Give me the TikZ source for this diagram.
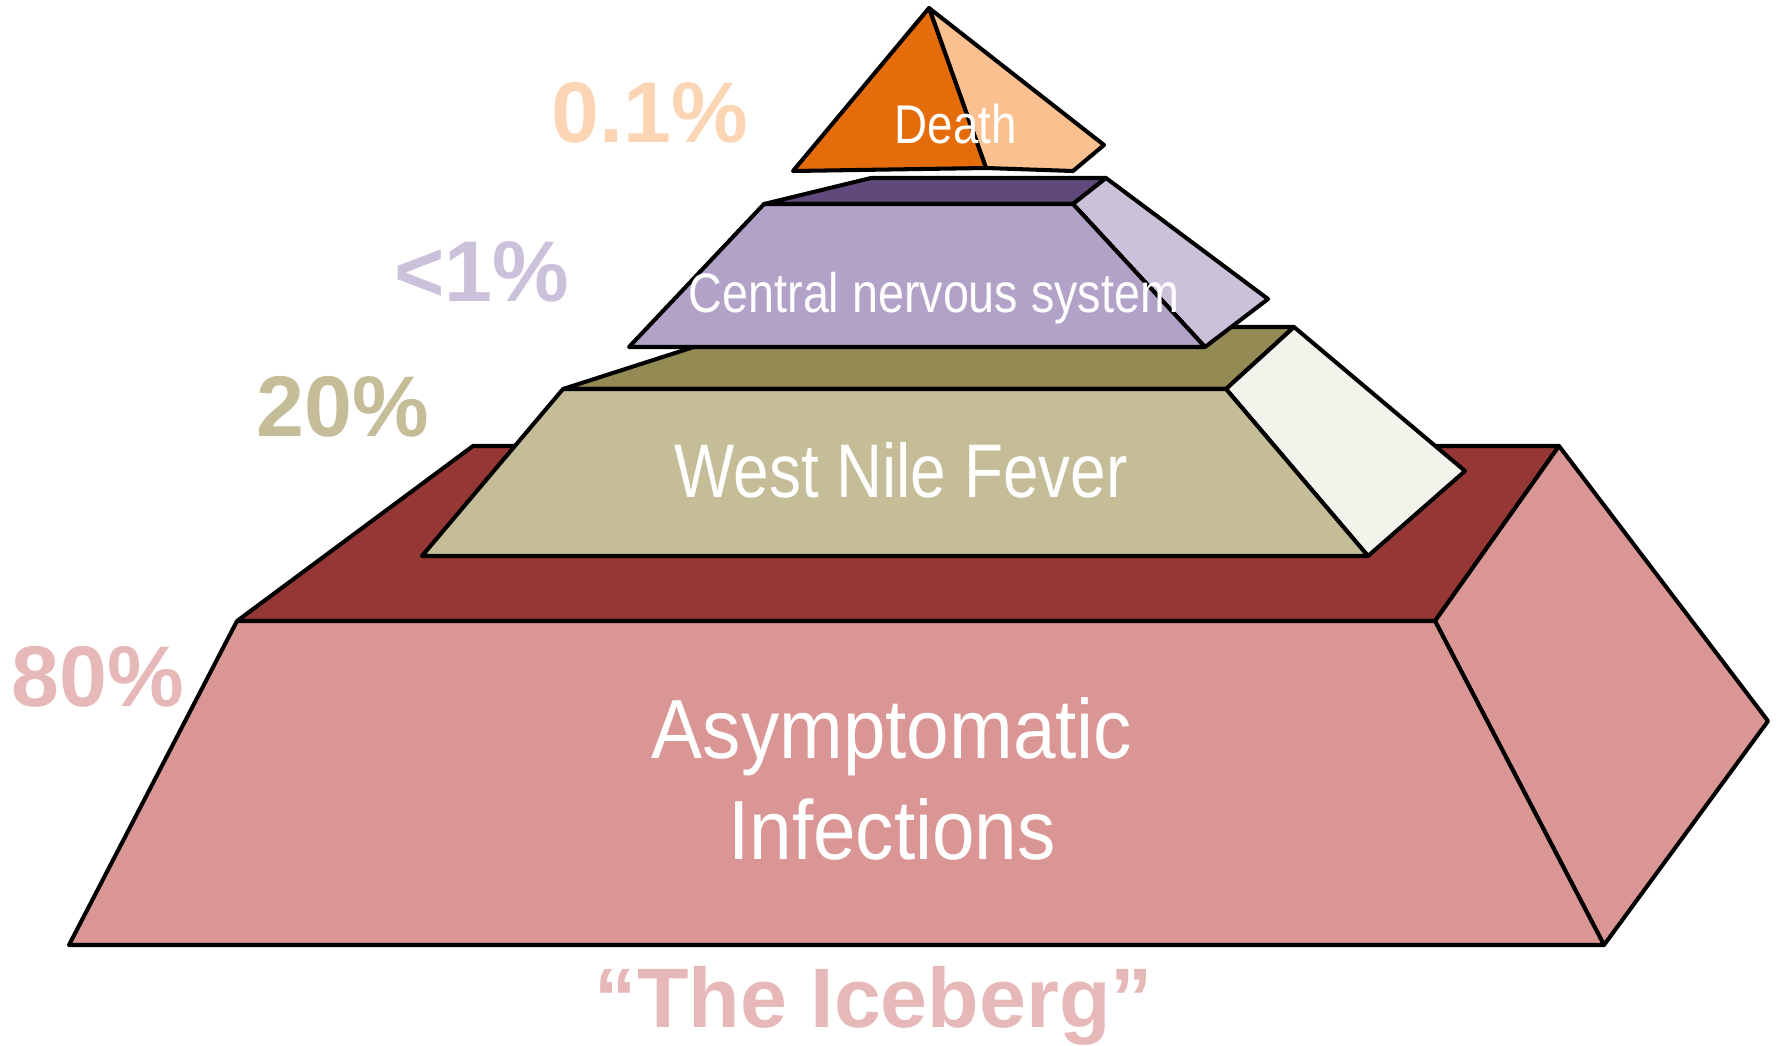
\documentclass[tikz,border=0pt]{standalone}
\usepackage{fontspec}
\setmainfont{Liberation Sans}
\newfontfamily\narrowfont[FakeStretch=0.84]{Liberation Sans}
\newfontfamily\wideish[FakeStretch=0.91]{Liberation Sans}
\definecolor{pinkF}{HTML}{D99694}
\definecolor{redT}{HTML}{953735}
\definecolor{oliveF}{HTML}{C4BD97}
\definecolor{oliveT}{HTML}{948A54}
\definecolor{oliveR}{HTML}{F3F3EC}
\definecolor{lilacF}{HTML}{B3A2C7}
\definecolor{lilacT}{HTML}{604A7B}
\definecolor{lilacR}{HTML}{CCC1DA}
\definecolor{orangeF}{HTML}{E46C0A}
\definecolor{orangeR}{HTML}{FAC090}
\definecolor{peachL}{HTML}{FCD5B5}
\definecolor{pinkL}{HTML}{E6B9B8}
\tikzset{
  face/.style={draw=black, line width=1.15pt, line join=round},
  inlabel/.style={text=white, inner sep=0pt, anchor=base},
  pct/.style={font=\bfseries\fontsize{24.5}{28}\selectfont, inner sep=0pt, anchor=base}
}
\begin{document}
\begin{tikzpicture}[x=0.01cm,y=-0.01cm]
\useasboundingbox (0,0) rectangle (1779,1045);
% ---- bottom block
\coordinate (bTL) at (237,621); \coordinate (bTR) at (1435,621);
\coordinate (bBR) at (1604,945); \coordinate (bBL) at (69,945);
\coordinate (bBkL) at (473,446); \coordinate (bBkR) at (1559,446);
\coordinate (bR) at (1768,721);
\filldraw[face, fill=redT] (bTL) -- (bBkL) -- (bBkR) -- (bTR) -- cycle;
\filldraw[face, fill=pinkF] (bTR) -- (bBkR) -- (bR) -- (bBR) -- cycle;
\filldraw[face, fill=pinkF] (bTL) -- (bTR) -- (bBR) -- (bBL) -- cycle;
% ---- West Nile Fever block
\coordinate (wTL) at (563,389); \coordinate (wTR) at (1226,389);
\coordinate (wBR) at (1368,556); \coordinate (wBL) at (422,556);
\coordinate (wBkL) at (756,327); \coordinate (wBkR) at (1294,327);
\coordinate (wR) at (1465,471);
\filldraw[face, fill=oliveT] (wTL) -- (wBkL) -- (wBkR) -- (wTR) -- cycle;
\filldraw[face, fill=oliveR] (wTR) -- (wBkR) -- (wR) -- (wBR) -- cycle;
\filldraw[face, fill=oliveF] (wTL) -- (wTR) -- (wBR) -- (wBL) -- cycle;
% ---- CNS block
\coordinate (cTL) at (764,204); \coordinate (cTR) at (1073,204);
\coordinate (cBR) at (1205,347); \coordinate (cBL) at (629,347);
\coordinate (cBkL) at (871,178); \coordinate (cBkR) at (1106,178);
\coordinate (cR) at (1268,299);
\filldraw[face, fill=lilacT] (cTL) -- (cBkL) -- (cBkR) -- (cTR) -- cycle;
\filldraw[face, fill=lilacR] (cTR) -- (cBkR) -- (cR) -- (cBR) -- cycle;
\filldraw[face, fill=lilacF] (cTL) -- (cTR) -- (cBR) -- (cBL) -- cycle;
% ---- Death pyramid
\coordinate (dA) at (929,8); \coordinate (dL) at (793,171);
\coordinate (dM) at (986,168); \coordinate (dB) at (1073,171);
\coordinate (dR) at (1104,145);
\filldraw[face, fill=orangeR] (dA) -- (dR) -- (dB) -- (dM) -- cycle;
\filldraw[face, fill=orangeF] (dA) -- (dM) -- (dL) -- cycle;
% ---- inner labels
\node[inlabel, font=\narrowfont\fontsize{15.5}{18}\selectfont] (tDeath) at (956,143) {Death};
\node[inlabel, font=\narrowfont\fontsize{15.8}{18}\selectfont] (tCNS) at (934,312) {Central nervous system};
\node[inlabel, font=\narrowfont\fontsize{21.6}{24}\selectfont] (tWNF) at (901,497) {West Nile Fever};
\node[inlabel, font=\wideish\fontsize{23.9}{28}\selectfont] (tAsy) at (892,758) {Asymptomatic};
\node[inlabel, font=\wideish\fontsize{23.9}{28}\selectfont] (tInf) at (892,859) {Infections};
% ---- percentage labels
\node[pct, text=peachL] (p01) at (650,142) {0.1\%};
\node[pct, text=lilacR] (p1) at (482,301) {<1\%};
\node[pct, text=oliveF] (p20) at (343,436) {20\%};
\node[pct, text=pinkL] (p80) at (98,706) {80\%};
\node[pct, text=pinkL, font=\bfseries\fontsize{24}{28}\selectfont] (ice) at (874,1027) {“The Iceberg”};
\end{tikzpicture}
\end{document}
